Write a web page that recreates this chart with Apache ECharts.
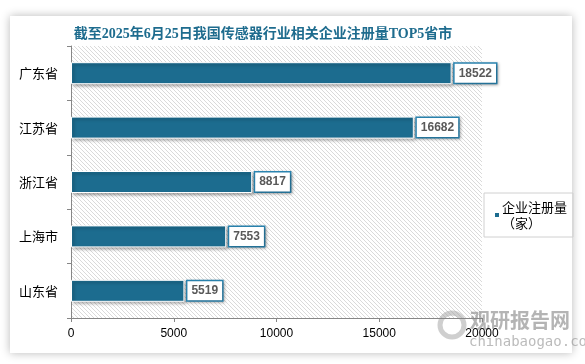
<!DOCTYPE html>
<html>
<head>
<meta charset="utf-8">
<script src="https://cdn.jsdelivr.net/npm/echarts@6/dist/echarts.min.js"></script>
<style>
html,body{margin:0;padding:0;background:#fff;}
#card{position:absolute;left:10px;top:16px;width:562px;height:337px;background:#fff;box-shadow:0 0 9px rgba(0,0,0,0.28);}
#main{position:absolute;left:0;top:0;width:585px;height:364px;}
</style>
</head>
<body>
<div id="card"></div>
<div id="main"></div>
<script>
var titleText = '截至2025年6月25日我国传感器行业相关企业注册量TOP5省市';
var categories = ['广东省', '江苏省', '浙江省', '上海市', '山东省'];
var seriesName = '企业注册量\n（家）';
var values = [18522, 16682, 8817, 7553, 5519];
var xTicks = [0, 5000, 10000, 15000, 20000];

var pc = document.createElement('canvas');
pc.width = 4; pc.height = 4;
var g = pc.getContext('2d');
g.fillStyle = '#ffffff';
g.fillRect(0, 0, 4, 4);
g.strokeStyle = '#dadada';
g.lineWidth = 1;
g.beginPath();
g.moveTo(-1, -1); g.lineTo(5, 5);
g.moveTo(-1, 3); g.lineTo(1, 5);
g.moveTo(3, -1); g.lineTo(5, 1);
g.stroke();

var chart = echarts.init(document.getElementById('main'), null, {renderer: 'canvas'});
chart.setOption({
  backgroundColor: 'transparent',
  animation: false,
  title: {
    text: titleText,
    left: 258,
    textAlign: 'center',
    top: 22,
    textStyle: {color: '#1e6c8e', fontSize: 14, fontWeight: 'bold', fontFamily: '"Liberation Serif", "Noto Sans CJK SC"'}
  },
  legend: {
    orient: 'vertical',
    left: 484,
    top: 193,
    width: 80,
    padding: [6, 6, 6, 9],
    borderColor: '#d0d0d0',
    borderWidth: 1,
    itemWidth: 6,
    itemHeight: 6,
    itemGap: 0,
    icon: 'rect',
    data: [seriesName],
    textStyle: {color: '#000', fontSize: 13, lineHeight: 16, fontFamily: 'Noto Sans CJK SC', padding: [0,0,0,-3]}
  },
  grid: {
    left: 71, right: 103, top: 46, bottom: 46,
    show: true,
    borderWidth: 0,
    backgroundColor: {image: pc, repeat: 'repeat'}
  },
  xAxis: {
    type: 'value',
    min: xTicks[0],
    max: xTicks[xTicks.length - 1],
    interval: xTicks[1] - xTicks[0],
    axisLine: {show: true, lineStyle: {color: '#868686', width: 1}},
    axisTick: {show: true, length: 4, lineStyle: {color: '#868686'}},
    splitLine: {show: false},
    axisLabel: {color: '#000', fontSize: 12, margin: 10, fontFamily: 'Liberation Sans',
      formatter: function (v) { return String(v); }}
  },
  yAxis: {
    type: 'category',
    inverse: true,
    data: categories,
    axisLine: {show: true, lineStyle: {color: '#868686', width: 1}},
    axisTick: {show: true, length: 4, lineStyle: {color: '#868686'}},
    axisLabel: {color: '#000', fontSize: 13, margin: 13, fontFamily: 'Noto Sans CJK SC'}
  },
  series: [{
    name: seriesName,
    type: 'bar',
    data: values,
    barWidth: 22,
    itemStyle: {
      color: '#1c6c8f',
      borderColor: '#ffffff',
      borderWidth: 1,
      shadowBlur: 3,
      shadowOffsetX: 2,
      shadowOffsetY: 2,
      shadowColor: 'rgba(0,0,0,0.35)'
    },
    label: {
      show: true,
      position: 'right',
      distance: 3,
      color: '#595959',
      fontSize: 12,
      fontWeight: 'bold',
      fontFamily: 'Liberation Sans',
      backgroundColor: '#ffffff',
      borderColor: '#2b85b1',
      borderWidth: 1.5,
      padding: [4, 4, 3, 4],
      shadowBlur: 3,
      shadowOffsetX: 1,
      shadowOffsetY: 1,
      shadowColor: 'rgba(0,0,0,0.3)'
    }
  }],
  graphic: [
    {type: 'text', left: 470, top: 310, silent: true,
     style: {text: '观研报告网', fill: 'rgba(140,140,140,0.65)', font: 'bold 20px "Noto Sans CJK SC"'}},
    {type: 'text', left: 469, top: 335, silent: true,
     style: {text: 'chinabaogao.com', fill: 'rgba(150,150,150,0.65)', font: '14px "DejaVu Sans Mono"'}},
    {type: 'circle', shape: {cx: 452, cy: 325, r: 12}, silent: true,
     style: {fill: 'none', stroke: 'rgba(160,160,160,0.5)', lineWidth: 5}}
  ]
});
</script>
</body>
</html>
